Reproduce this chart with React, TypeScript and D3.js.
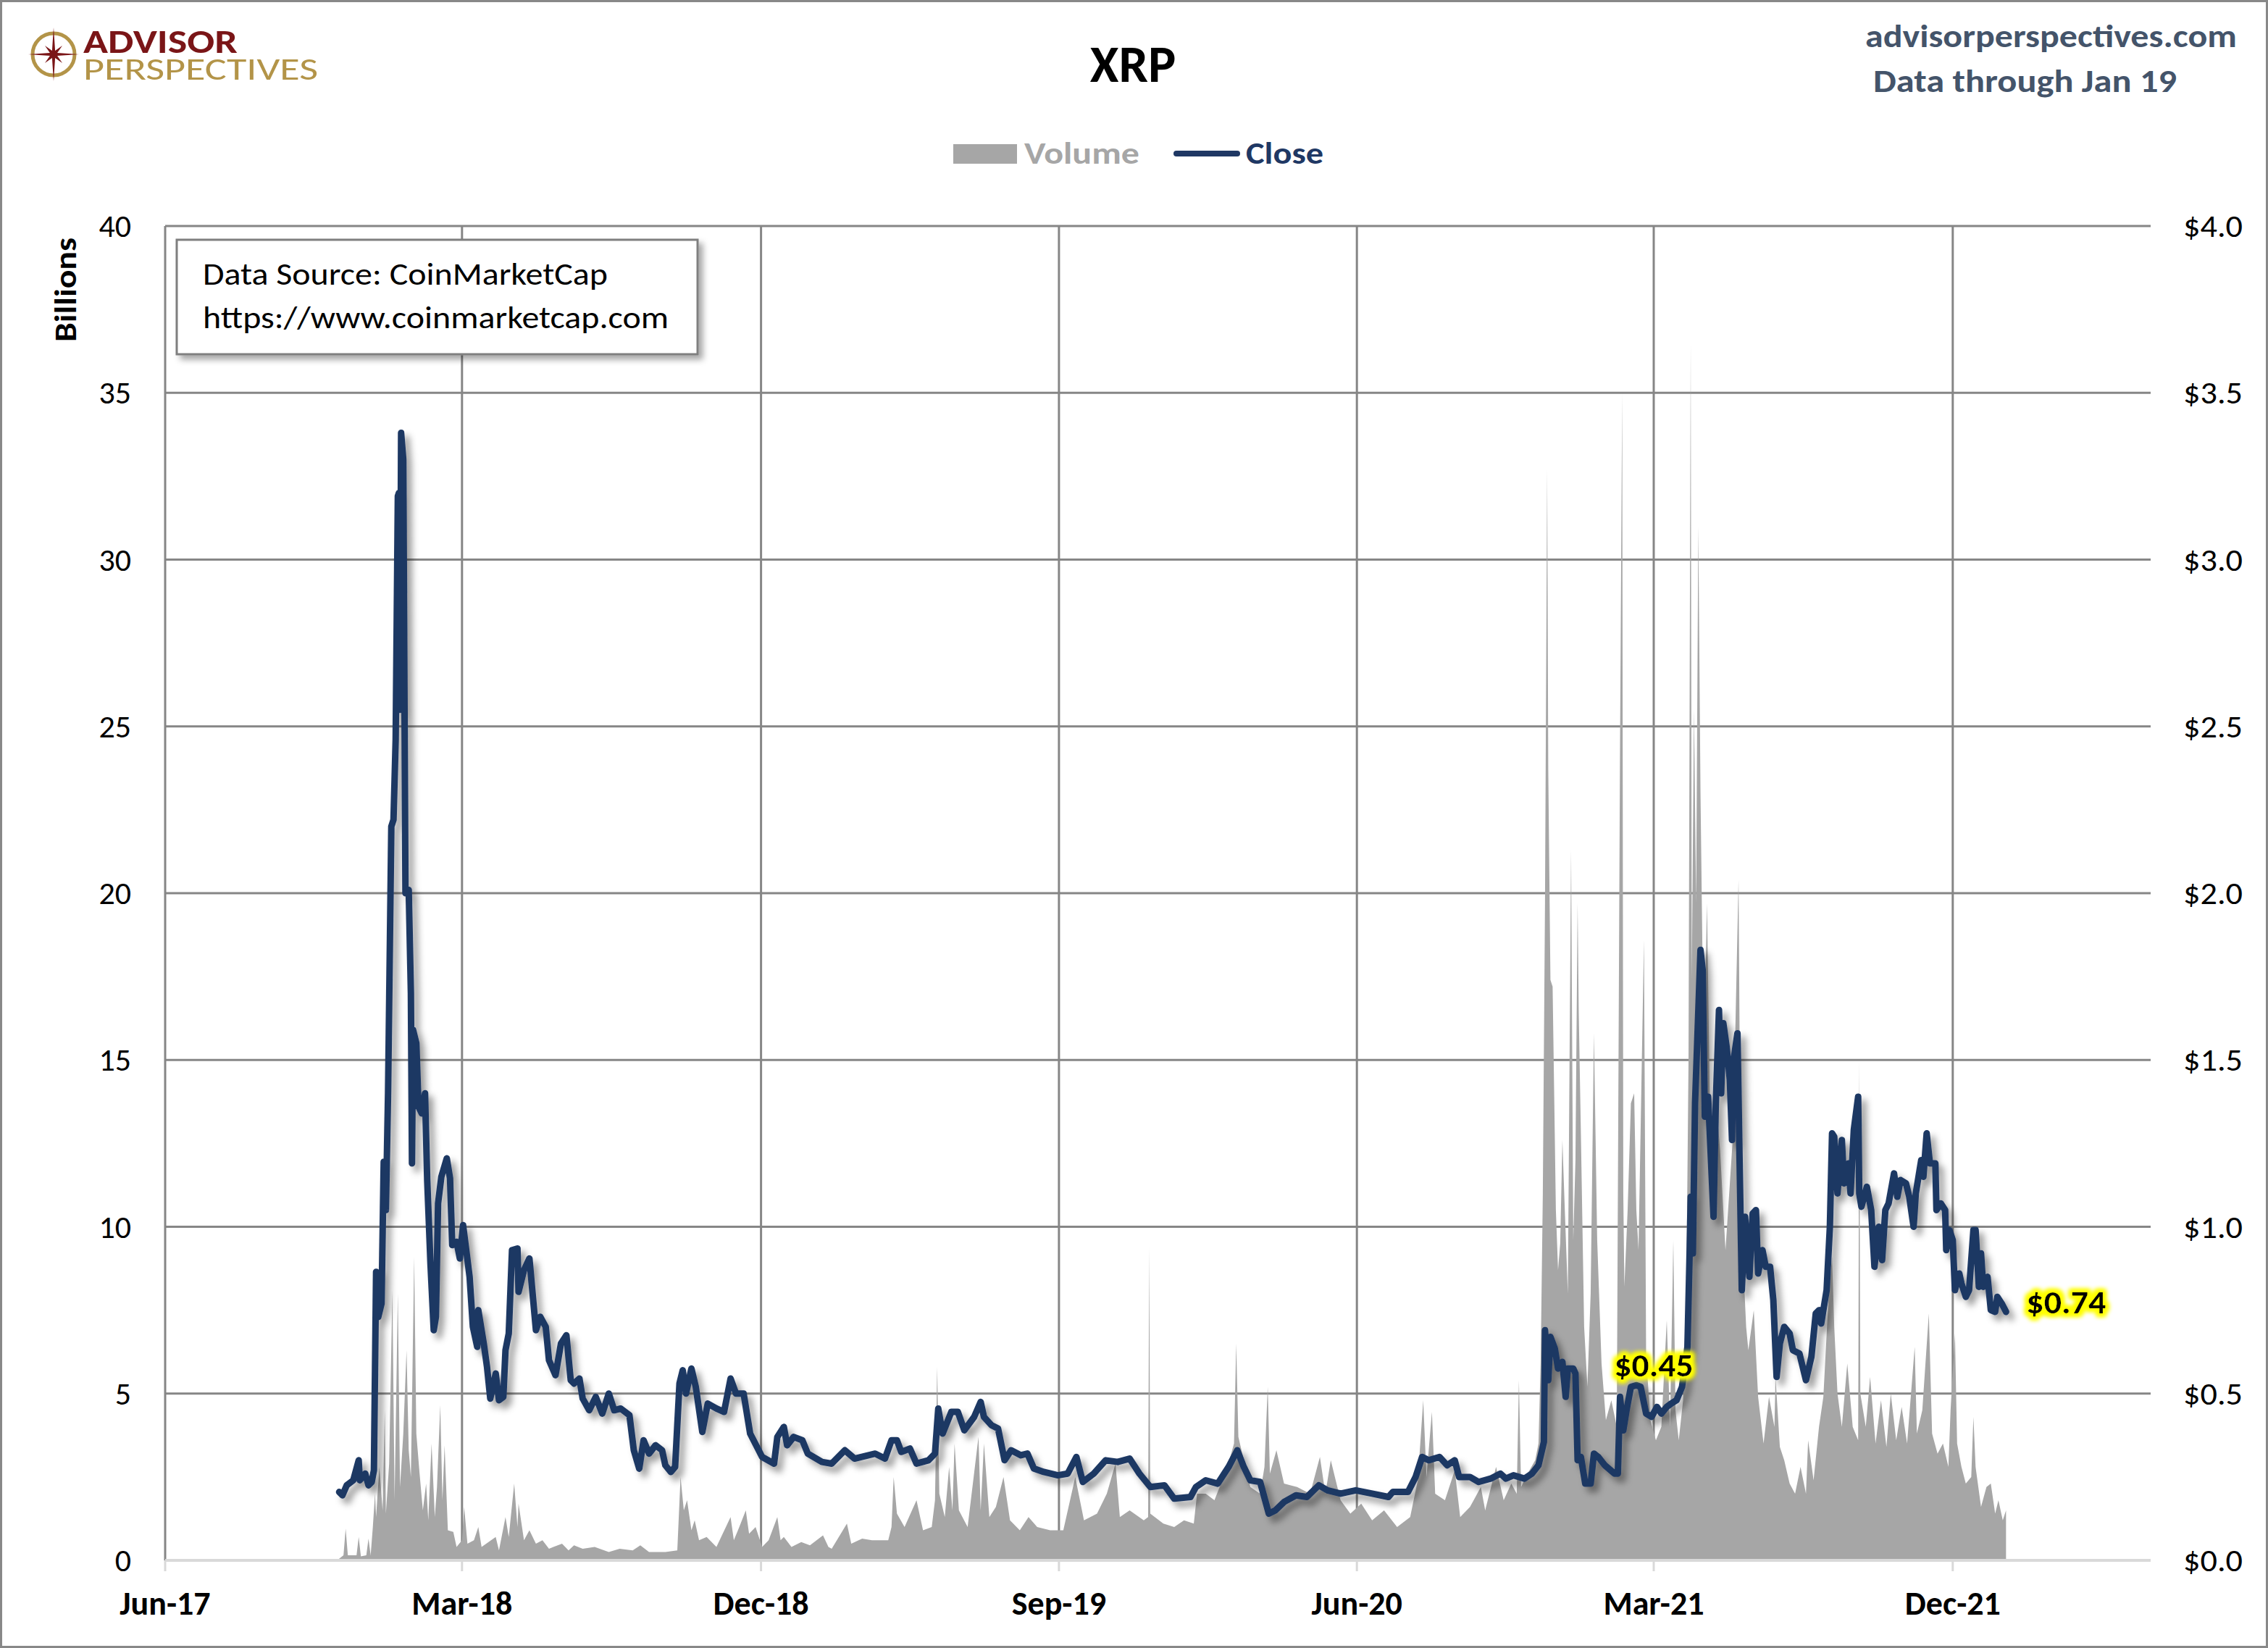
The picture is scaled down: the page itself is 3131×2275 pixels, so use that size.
import React from "react";
import * as d3 from "d3";

// ---------- DATA ----------
const closeSeries: [string, number][] = [
  ["2017-11-08",0.205],["2017-11-11",0.195],["2017-11-15",0.225],["2017-11-21",0.24],["2017-11-26",0.30],["2017-11-27",0.24],
  ["2017-12-02",0.26],["2017-12-05",0.225],["2017-12-08",0.235],["2017-12-10",0.27],["2017-12-12",0.865],["2017-12-14",0.73],
  ["2017-12-17",0.77],["2017-12-19",1.195],["2017-12-21",1.05],["2017-12-23",1.40],["2017-12-26",2.20],["2017-12-28",2.22],
  ["2017-12-30",2.46],["2018-01-01",3.19],["2018-01-02",3.20],["2018-01-03",2.55],["2018-01-04",3.38],["2018-01-06",3.30],
  ["2018-01-08",2.00],["2018-01-11",2.01],["2018-01-13",1.70],["2018-01-14",1.19],["2018-01-15",1.59],["2018-01-18",1.55],
  ["2018-01-20",1.36],["2018-01-23",1.34],["2018-01-26",1.40],["2018-01-28",1.14],["2018-01-31",0.89],["2018-02-03",0.69],
  ["2018-02-05",0.73],["2018-02-07",1.07],["2018-02-10",1.15],["2018-02-15",1.205],["2018-02-18",1.145],["2018-02-20",0.945],
  ["2018-02-24",0.955],["2018-02-27",0.905],["2018-03-02",1.005],["2018-03-08",0.85],["2018-03-11",0.70],["2018-03-15",0.64],
  ["2018-03-16",0.75],["2018-03-21",0.65],["2018-03-24",0.58],["2018-03-27",0.485],["2018-04-01",0.56],["2018-04-04",0.48],
  ["2018-04-08",0.49],["2018-04-10",0.63],["2018-04-13",0.68],["2018-04-16",0.93],["2018-04-21",0.935],["2018-04-22",0.805],
  ["2018-04-27",0.87],["2018-05-02",0.905],["2018-05-08",0.69],["2018-05-12",0.73],["2018-05-17",0.70],["2018-05-20",0.60],
  ["2018-05-26",0.555],["2018-05-31",0.65],["2018-06-05",0.675],["2018-06-09",0.54],["2018-06-12",0.53],["2018-06-17",0.545],
  ["2018-06-20",0.485],["2018-06-26",0.45],["2018-07-02",0.49],["2018-07-08",0.44],["2018-07-14",0.50],["2018-07-19",0.45],
  ["2018-07-25",0.455],["2018-08-02",0.435],["2018-08-06",0.33],["2018-08-11",0.275],["2018-08-15",0.36],["2018-08-20",0.32],
  ["2018-08-26",0.345],["2018-09-01",0.33],["2018-09-04",0.285],["2018-09-09",0.265],["2018-09-13",0.28],["2018-09-17",0.53],
  ["2018-09-20",0.57],["2018-09-23",0.50],["2018-09-28",0.575],["2018-10-02",0.52],["2018-10-08",0.385],["2018-10-13",0.47],
  ["2018-10-21",0.455],["2018-10-28",0.445],["2018-11-03",0.545],["2018-11-08",0.50],["2018-11-15",0.50],["2018-11-21",0.38],
  ["2018-12-02",0.31],["2018-12-13",0.29],["2018-12-16",0.37],["2018-12-22",0.40],["2018-12-25",0.345],["2018-12-31",0.37],
  ["2019-01-08",0.36],["2019-01-13",0.32],["2019-01-26",0.295],["2019-02-04",0.29],["2019-02-16",0.33],["2019-02-25",0.305],
  ["2019-03-16",0.32],["2019-03-25",0.305],["2019-03-31",0.36],["2019-04-05",0.36],["2019-04-09",0.325],["2019-04-17",0.335],
  ["2019-04-23",0.29],["2019-05-04",0.30],["2019-05-10",0.32],["2019-05-13",0.455],["2019-05-17",0.38],["2019-05-25",0.445],
  ["2019-05-31",0.445],["2019-06-06",0.39],["2019-06-15",0.43],["2019-06-21",0.475],["2019-06-24",0.43],["2019-07-01",0.405],
  ["2019-07-07",0.395],["2019-07-13",0.30],["2019-07-19",0.33],["2019-07-28",0.315],["2019-08-03",0.32],["2019-08-09",0.275],
  ["2019-08-18",0.265],["2019-08-31",0.255],["2019-09-09",0.26],["2019-09-17",0.31],["2019-09-23",0.235],["2019-10-03",0.26],
  ["2019-10-14",0.30],["2019-10-25",0.295],["2019-11-05",0.305],["2019-11-14",0.26],["2019-11-24",0.22],["2019-12-07",0.225],
  ["2019-12-16",0.185],["2019-12-31",0.19],["2020-01-05",0.22],["2020-01-14",0.24],["2020-01-25",0.23],["2020-02-04",0.28],
  ["2020-02-12",0.33],["2020-02-18",0.28],["2020-02-24",0.24],["2020-03-04",0.235],["2020-03-12",0.14],["2020-03-18",0.15],
  ["2020-03-26",0.175],["2020-04-06",0.195],["2020-04-16",0.19],["2020-04-27",0.225],["2020-05-05",0.21],["2020-05-17",0.20],
  ["2020-05-31",0.21],["2020-06-15",0.20],["2020-06-30",0.19],["2020-07-04",0.205],["2020-07-18",0.205],["2020-07-25",0.25],
  ["2020-07-31",0.31],["2020-08-06",0.30],["2020-08-16",0.31],["2020-08-23",0.285],["2020-08-30",0.30],["2020-09-03",0.25],
  ["2020-09-13",0.25],["2020-09-21",0.235],["2020-10-02",0.245],["2020-10-11",0.26],["2020-10-16",0.245],["2020-10-23",0.255],
  ["2020-11-02",0.245],["2020-11-09",0.26],["2020-11-15",0.285],["2020-11-20",0.355],["2020-11-21",0.69],["2020-11-24",0.54],
  ["2020-11-26",0.67],["2020-11-30",0.635],["2020-12-03",0.575],["2020-12-07",0.595],["2020-12-10",0.49],["2020-12-12",0.575],
  ["2020-12-17",0.575],["2020-12-19",0.56],["2020-12-21",0.30],["2020-12-24",0.31],["2020-12-28",0.23],["2021-01-02",0.23],
  ["2021-01-05",0.32],["2021-01-09",0.31],["2021-01-15",0.285],["2021-01-24",0.26],["2021-01-27",0.26],["2021-01-29",0.49],
  ["2021-02-01",0.39],["2021-02-04",0.45],["2021-02-08",0.52],["2021-02-13",0.525],["2021-02-17",0.52],["2021-02-22",0.44],
  ["2021-02-27",0.43],["2021-03-04",0.46],["2021-03-08",0.44],["2021-03-13",0.46],["2021-03-17",0.47],["2021-03-22",0.48],
  ["2021-03-27",0.52],["2021-04-01",0.64],["2021-04-03",0.92],["2021-04-04",1.09],["2021-04-06",0.92],["2021-04-08",1.37],
  ["2021-04-13",1.83],["2021-04-15",1.77],["2021-04-17",1.33],["2021-04-20",1.39],["2021-04-25",1.03],["2021-04-27",1.36],
  ["2021-04-30",1.65],["2021-05-02",1.40],["2021-05-04",1.61],["2021-05-07",1.54],["2021-05-10",1.44],["2021-05-12",1.26],
  ["2021-05-13",1.49],["2021-05-17",1.58],["2021-05-19",1.19],["2021-05-21",0.81],["2021-05-24",1.03],["2021-05-28",0.85],
  ["2021-05-31",1.04],["2021-06-03",1.05],["2021-06-05",0.86],["2021-06-09",0.93],["2021-06-12",0.88],["2021-06-16",0.88],
  ["2021-06-19",0.78],["2021-06-22",0.55],["2021-06-25",0.65],["2021-06-29",0.70],["2021-07-04",0.68],["2021-07-07",0.63],
  ["2021-07-13",0.62],["2021-07-19",0.54],["2021-07-24",0.61],["2021-07-28",0.74],["2021-07-31",0.75],["2021-08-02",0.71],
  ["2021-08-07",0.81],["2021-08-10",1.00],["2021-08-12",1.28],["2021-08-14",1.27],["2021-08-17",1.10],["2021-08-21",1.26],
  ["2021-08-23",1.13],["2021-08-27",1.19],["2021-08-29",1.10],["2021-09-01",1.29],["2021-09-05",1.39],["2021-09-06",1.10],
  ["2021-09-08",1.06],["2021-09-13",1.12],["2021-09-17",1.05],["2021-09-20",0.88],["2021-09-24",1.00],["2021-09-27",0.90],
  ["2021-09-30",1.05],["2021-10-03",1.07],["2021-10-08",1.16],["2021-10-11",1.09],["2021-10-14",1.14],["2021-10-19",1.13],
  ["2021-10-22",1.09],["2021-10-26",1.00],["2021-10-28",1.10],["2021-11-02",1.20],["2021-11-04",1.15],["2021-11-07",1.28],
  ["2021-11-10",1.19],["2021-11-15",1.19],["2021-11-16",1.05],["2021-11-20",1.07],["2021-11-24",1.05],["2021-11-25",0.93],
  ["2021-11-28",0.99],["2021-12-01",0.96],["2021-12-03",0.81],["2021-12-07",0.86],["2021-12-09",0.83],["2021-12-13",0.79],
  ["2021-12-16",0.81],["2021-12-20",0.99],["2021-12-22",0.99],["2021-12-25",0.82],["2021-12-27",0.92],["2021-12-29",0.82],
  ["2022-01-02",0.85],["2022-01-05",0.75],["2022-01-09",0.745],["2022-01-11",0.79],["2022-01-15",0.77],["2022-01-19",0.745],
];

// Volume, billions
const volumeSeries: [string, number][] = [
  ["2017-11-08",0.05],["2017-11-12",0.15],["2017-11-14",0.95],["2017-11-16",0.15],["2017-11-24",0.15],["2017-11-26",0.70],
  ["2017-11-28",0.12],["2017-12-03",0.15],["2017-12-05",0.65],["2017-12-07",0.15],["2017-12-09",1.0],["2017-12-11",2.0],
  ["2017-12-12",1.3],["2017-12-15",2.8],["2017-12-18",1.5],["2017-12-20",4.5],["2017-12-21",1.4],["2017-12-24",2.9],
  ["2017-12-27",8.1],["2017-12-29",1.8],["2018-01-01",8.0],["2018-01-03",2.2],["2018-01-06",3.8],["2018-01-09",6.3],
  ["2018-01-11",3.3],["2018-01-13",2.5],["2018-01-16",9.1],["2018-01-18",3.8],["2018-01-21",2.6],["2018-01-24",1.5],
  ["2018-01-27",2.3],["2018-01-29",1.2],["2018-02-01",3.5],["2018-02-04",1.3],["2018-02-06",2.2],["2018-02-09",4.65],
  ["2018-02-11",1.8],["2018-02-13",3.45],["2018-02-16",0.9],["2018-02-21",0.85],["2018-02-24",0.4],["2018-03-01",0.6],
  ["2018-03-03",1.6],["2018-03-06",0.5],["2018-03-12",0.6],["2018-03-16",1.0],["2018-03-19",0.4],["2018-04-01",0.7],
  ["2018-04-04",0.3],["2018-04-10",1.3],["2018-04-13",0.7],["2018-04-18",2.3],["2018-04-21",1.0],["2018-04-22",1.7],
  ["2018-04-27",0.6],["2018-05-02",0.9],["2018-05-08",0.5],["2018-05-14",0.6],["2018-05-20",0.35],["2018-06-01",0.5],
  ["2018-06-07",0.3],["2018-06-12",0.45],["2018-06-20",0.35],["2018-07-01",0.4],["2018-07-14",0.25],["2018-07-24",0.35],
  ["2018-08-05",0.3],["2018-08-12",0.45],["2018-08-20",0.25],["2018-09-04",0.25],["2018-09-15",0.3],
  ["2018-09-18",2.5],["2018-09-21",1.5],["2018-09-24",1.8],["2018-09-28",0.9],["2018-10-01",1.2],["2018-10-05",0.6],
  ["2018-10-12",0.7],["2018-10-21",0.4],["2018-11-03",1.3],["2018-11-06",0.6],["2018-11-11",1.0],["2018-11-17",1.5],["2018-11-20",0.8],
  ["2018-11-26",1.0],["2018-12-02",0.4],["2018-12-08",0.6],["2018-12-16",1.3],["2018-12-19",0.6],["2018-12-22",0.7],["2018-12-29",0.4],
  ["2019-01-07",0.55],["2019-01-15",0.45],["2019-01-27",0.75],["2019-02-01",0.4],["2019-02-04",0.35],["2019-02-18",1.1],["2019-02-22",0.5],
  ["2019-03-04",0.65],["2019-03-13",0.6],["2019-03-28",0.6],["2019-03-31",1.0],["2019-04-02",2.5],["2019-04-05",1.4],["2019-04-12",1.0],
  ["2019-04-23",1.8],["2019-04-29",0.9],["2019-05-07",1.0],["2019-05-10",1.8],["2019-05-12",5.8],["2019-05-14",2.0],
  ["2019-05-19",1.3],["2019-05-23",2.8],["2019-05-26",1.5],["2019-05-28",3.5],["2019-06-01",1.5],["2019-06-09",1.0],
  ["2019-06-19",3.7],["2019-06-21",1.5],["2019-06-24",3.5],["2019-06-29",1.3],["2019-07-05",1.6],["2019-07-12",2.5],["2019-07-18",1.2],
  ["2019-07-27",0.9],["2019-08-04",1.3],["2019-08-12",1.0],["2019-08-24",0.9],["2019-09-05",0.9],["2019-09-16",2.5],["2019-09-24",1.2],
  ["2019-10-06",1.4],["2019-10-15",2.0],["2019-10-23",2.9],["2019-10-27",1.3],["2019-11-05",1.5],["2019-11-18",1.2],
  ["2019-11-22",1.3],["2019-11-23",9.4],["2019-11-24",1.4],["2019-12-06",1.1],["2019-12-16",1.0],["2019-12-25",1.2],
  ["2020-01-03",1.1],["2020-01-06",2.0],["2020-01-14",2.0],["2020-01-22",1.8],["2020-02-03",2.8],["2020-02-09",3.5],
  ["2020-02-11",6.5],["2020-02-13",3.7],["2020-02-18",3.0],["2020-02-24",2.2],["2020-03-04",2.0],["2020-03-08",2.8],
  ["2020-03-11",5.2],["2020-03-13",2.6],["2020-03-19",3.3],["2020-03-26",2.3],["2020-04-07",2.2],["2020-04-19",2.0],
  ["2020-04-28",3.1],["2020-05-03",2.0],["2020-05-08",3.0],["2020-05-17",1.8],["2020-05-26",1.4],["2020-06-05",1.7],["2020-06-15",1.2],
  ["2020-06-26",1.5],["2020-07-08",1.0],["2020-07-20",1.3],["2020-07-27",2.4],["2020-08-01",4.8],["2020-08-04",2.5],
  ["2020-08-09",4.45],["2020-08-12",2.0],["2020-08-21",1.8],["2020-08-30",2.7],["2020-09-04",1.3],["2020-09-13",1.6],
  ["2020-09-23",2.2],["2020-09-27",1.5],["2020-10-07",2.8],["2020-10-14",1.8],["2020-10-21",2.3],["2020-10-26",2.0],
  ["2020-10-28",5.4],["2020-10-30",2.2],["2020-11-05",2.6],["2020-11-12",3.0],["2020-11-15",3.5],["2020-11-17",5.9],
  ["2020-11-19",11],["2020-11-21",19.7],["2020-11-23",32.7],["2020-11-24",23.7],["2020-11-26",17.4],["2020-11-28",17.2],
  ["2020-12-01",10.5],["2020-12-03",8.7],["2020-12-05",9.5],["2020-12-07",12.6],["2020-12-09",10.7],["2020-12-12",8.0],
  ["2020-12-15",21.3],["2020-12-17",9.6],["2020-12-19",12.0],["2020-12-21",19.7],["2020-12-22",16.5],["2020-12-24",12.8],
  ["2020-12-27",7.0],["2020-12-30",5.2],["2021-01-02",8.0],["2021-01-05",15.8],["2021-01-08",9.6],["2021-01-12",5.9],
  ["2021-01-16",4.2],["2021-01-21",4.8],["2021-01-26",4.0],["2021-01-29",24.4],["2021-01-31",35.0],["2021-02-01",11],
  ["2021-02-02",8.2],["2021-02-05",10.5],["2021-02-08",13.7],["2021-02-11",14],["2021-02-13",10.5],["2021-02-15",9.3],
  ["2021-02-20",18.6],["2021-02-22",6.1],["2021-02-26",4.2],["2021-03-03",3.6],["2021-03-08",4.0],["2021-03-13",7.2],
  ["2021-03-16",4.0],["2021-03-19",9.6],["2021-03-21",4.5],["2021-03-24",3.6],["2021-03-28",4.8],["2021-03-31",8.2],
  ["2021-04-02",15],["2021-04-04",36.5],["2021-04-05",17.4],["2021-04-07",25.5],["2021-04-09",19.7],["2021-04-11",31],
  ["2021-04-13",23],["2021-04-16",15],["2021-04-19",19.7],["2021-04-23",10.5],["2021-04-27",13.9],["2021-05-01",12.3],
  ["2021-05-06",9.3],["2021-05-13",12.8],["2021-05-18",20.4],["2021-05-20",10.5],["2021-05-25",7.0],["2021-05-27",6.3],
  ["2021-06-01",7.5],["2021-06-05",4.9],["2021-06-10",3.5],["2021-06-15",4.9],["2021-06-20",4.0],["2021-06-21",5.5],
  ["2021-06-25",3.4],["2021-06-29",3.0],["2021-07-04",2.3],["2021-07-09",2.0],["2021-07-14",2.8],["2021-07-19",2.0],
  ["2021-07-21",3.6],["2021-07-26",2.4],["2021-07-31",4.0],["2021-08-04",4.9],["2021-08-09",8.0],["2021-08-12",9.1],
  ["2021-08-14",7.0],["2021-08-17",5.0],["2021-08-21",4.0],["2021-08-26",5.9],["2021-08-31",4.0],["2021-09-05",3.6],
  ["2021-09-06",15],["2021-09-07",5.0],["2021-09-12",4.0],["2021-09-16",5.5],["2021-09-21",3.5],["2021-09-26",4.8],
  ["2021-10-01",3.4],["2021-10-05",5.0],["2021-10-10",3.6],["2021-10-15",4.6],["2021-10-20",3.5],["2021-10-27",6.4],
  ["2021-10-29",3.8],["2021-11-03",4.5],["2021-11-09",7.4],["2021-11-12",3.8],["2021-11-17",3.2],["2021-11-22",3.5],
  ["2021-11-27",2.8],["2021-11-29",4.5],["2021-12-03",6.8],["2021-12-05",3.5],["2021-12-09",2.8],["2021-12-13",2.3],
  ["2021-12-18",2.5],["2021-12-20",4.3],["2021-12-22",2.8],["2021-12-27",1.6],["2022-01-01",2.2],["2022-01-05",2.3],
  ["2022-01-09",1.4],["2022-01-12",1.8],["2022-01-16",1.2],["2022-01-19",1.5],
];

const xDomain: [string, string] = ["2017-06-01", "2022-06-01"];
const xTickDates = ["2017-06-01","2018-03-01","2018-12-01","2019-09-01","2020-06-01","2021-03-01","2021-12-01"];
const volumeTicks = [0, 5, 10, 15, 20, 25, 30, 35, 40];
const priceTicks = [0, 0.5, 1.0, 1.5, 2.0, 2.5, 3.0, 3.5, 4.0];
const annotation: [string, number] = ["2021-03-01", 0.45];

// ---------- LAYOUT ----------
const W = 3131, H = 2275;
const L = 228, R = 2969, T = 312, B = 2154;
const FONT = "Carlito, Calibri, Lato, 'Open Sans', sans-serif";
const NAVY = "#1f3864";
const GRAY = "#a6a6a6";
const GRID = "#868686";

const parse = d3.timeParse("%Y-%m-%d");
const fmtTick = d3.timeFormat("%b-%y");

export default function App() {
  const x = d3.scaleTime().domain(xDomain.map((d) => parse(d) as Date)).range([L, R]);
  const yVol = d3.scaleLinear().domain([0, 40]).range([B, T]);
  const yPx = d3.scaleLinear().domain([0, 4]).range([B, T]);

  const vol = volumeSeries.map(([d, v]) => ({ d: parse(d) as Date, v }));
  const close = closeSeries.map(([d, v]) => ({ d: parse(d) as Date, v }));

  const area = d3.area<{ d: Date; v: number }>()
    .x((p) => x(p.d)).y0(yVol(0)).y1((p) => yVol(p.v));
  const line = d3.line<{ d: Date; v: number }>()
    .x((p) => x(p.d)).y((p) => yPx(p.v));

  const last = close[close.length - 1];
  const annD = parse(annotation[0]) as Date;

  // compass star for logo
  const cx = 74, cy = 75;
  const star: [number, number][] = [];
  for (let i = 0; i < 16; i++) {
    const a = (i * Math.PI) / 8;
    const r = i % 4 === 0 ? (i === 0 || i === 8 ? 37 : 35) : i % 2 === 0 ? 17 : 5.5;
    star.push([cx + r * Math.sin(a), cy - r * Math.cos(a)]);
  }
  const starPath = "M" + star.map((p) => p.join(",")).join("L") + "Z";

  return (
    <div>
      <style>{"body{margin:0;background:#fff}"}</style>
      <svg width={W} height={H} viewBox={`0 0 ${W} ${H}`} style={{ display: "block" }} fontFamily={FONT}>
        <defs>
          <filter id="lineShadow" x="-5%" y="-5%" width="110%" height="115%">
            <feDropShadow dx="7" dy="8" stdDeviation="5" floodColor="#000" floodOpacity="0.38" />
          </filter>
          <filter id="boxShadow" x="-5%" y="-10%" width="115%" height="130%">
            <feDropShadow dx="6" dy="6" stdDeviation="4" floodColor="#000" floodOpacity="0.35" />
          </filter>
          <filter id="glow" x="-20%" y="-40%" width="140%" height="180%">
            <feMorphology in="SourceAlpha" operator="dilate" radius="4" result="d" />
            <feGaussianBlur in="d" stdDeviation="3" result="b" />
            <feFlood floodColor="#ffff00" />
            <feComposite in2="b" operator="in" result="g" />
            <feMerge>
              <feMergeNode in="g" />
              <feMergeNode in="g" />
              <feMergeNode in="SourceGraphic" />
            </feMerge>
          </filter>
        </defs>

        <rect x={0} y={0} width={W} height={H} fill="#fff" />
        <rect x={1.5} y={1.5} width={W - 3} height={H - 3} fill="none" stroke="#888" strokeWidth={3} />

        {/* Logo */}
        <g>
          <circle cx={cx} cy={cy} r={29} fill="none" stroke="#b39448" strokeWidth={5} />
          <path d={starPath} fill="#7a1517" />
          <text>
            <tspan x={115} y={73} fontSize={46} fontWeight={700} fill="#7a1517" textLength={213} lengthAdjust="spacingAndGlyphs">ADVISOR</tspan>
            <tspan x={115} y={110} fontSize={44} fontWeight={400} fill="#b39448" textLength={324} lengthAdjust="spacingAndGlyphs">PERSPECTIVES</tspan>
          </text>
        </g>

        {/* Title */}
        <text x={1564} y={113} textAnchor="middle" fontSize={72} fontWeight={700} fill="#000">XRP</text>

        {/* Top right */}
        <text x={2575} y={65} fontSize={44} fontWeight={700} fill="#44546a" textLength={513} lengthAdjust="spacingAndGlyphs">advisorperspectives.com</text>
        <text x={2586} y={127} fontSize={44} fontWeight={700} fill="#44546a" textLength={419} lengthAdjust="spacingAndGlyphs">Data through Jan 19</text>

        {/* Legend */}
        <rect x={1316} y={199} width={88} height={27} fill={GRAY} />
        <text x={1414} y={226} fontSize={43} fontWeight={700} fill={GRAY} textLength={159} lengthAdjust="spacingAndGlyphs">Volume</text>
        <line x1={1624} x2={1708} y1={212} y2={212} stroke={NAVY} strokeWidth={8} strokeLinecap="round" />
        <text x={1720} y={226} fontSize={43} fontWeight={700} fill={NAVY} textLength={107} lengthAdjust="spacingAndGlyphs">Close</text>

        {/* Gridlines */}
        {volumeTicks.filter((v) => v > 0).map((v) => (
          <line key={"h" + v} x1={L} x2={R} y1={yVol(v)} y2={yVol(v)} stroke={GRID} strokeWidth={3} />
        ))}
        {xTickDates.slice(1).map((d) => (
          <line key={"v" + d} x1={x(parse(d) as Date)} x2={x(parse(d) as Date)} y1={T} y2={B} stroke={GRID} strokeWidth={3} />
        ))}
        <line x1={L} x2={L} y1={T} y2={B} stroke={GRID} strokeWidth={3} />

        {/* Volume area */}
        <path d={area(vol) || ""} fill={GRAY} />

        {/* Bottom axis */}
        <line x1={L} x2={R} y1={B} y2={B} stroke="#d9d9d9" strokeWidth={4} />
        {xTickDates.map((d) => (
          <line key={"t" + d} x1={x(parse(d) as Date)} x2={x(parse(d) as Date)} y1={B} y2={B + 15} stroke="#d9d9d9" strokeWidth={3} />
        ))}

        {/* Close line */}
        <path d={line(close) || ""} fill="none" stroke={NAVY} strokeWidth={9} strokeLinejoin="round" strokeLinecap="round" filter="url(#lineShadow)" />

        {/* Data labels */}
        <text x={x(annD)} y={yPx(annotation[1]) - 47} textAnchor="middle" fontSize={44} fontWeight={700} fill="#000" filter="url(#glow)" textLength={109} lengthAdjust="spacingAndGlyphs">
          {"$" + annotation[1].toFixed(2)}
        </text>
        <text x={x(last.d) + 28} y={yPx(last.v) + 2} fontSize={44} fontWeight={700} fill="#000" filter="url(#glow)" textLength={110} lengthAdjust="spacingAndGlyphs">
          {"$" + last.v.toFixed(2)}
        </text>

        {/* Left axis labels */}
        {volumeTicks.map((v) => (
          <text key={"l" + v} x={181} y={yVol(v) + 15} textAnchor="end" fontSize={44} fill="#000">{v}</text>
        ))}
        {/* Right axis labels */}
        {priceTicks.map((v) => (
          <text key={"r" + v} x={3014} y={yPx(v) + 15} fontSize={44} fill="#000" textLength={82} lengthAdjust="spacingAndGlyphs">{"$" + v.toFixed(1)}</text>
        ))}
        {/* X labels */}
        {xTickDates.map((d) => (
          <text key={"x" + d} x={x(parse(d) as Date)} y={2229} textAnchor="middle" fontSize={46} fontWeight={700} fill="#000">{fmtTick(parse(d) as Date)}</text>
        ))}

        {/* Billions */}
        <text transform="translate(105,400) rotate(-90)" textAnchor="middle" fontSize={42} fontWeight={700} fill="#000" textLength={144} lengthAdjust="spacingAndGlyphs">Billions</text>

        {/* Data source box */}
        <rect x={244} y={331} width={719} height={158} fill="#fff" stroke="#7f7f7f" strokeWidth={3} filter="url(#boxShadow)" />
        <text x={280} y={393} fontSize={43} fill="#000" textLength={559} lengthAdjust="spacingAndGlyphs">Data Source: CoinMarketCap</text>
        <text x={280} y={453} fontSize={43} fill="#000" textLength={643} lengthAdjust="spacingAndGlyphs">https://www.coinmarketcap.com</text>
      </svg>
    </div>
  );
}
